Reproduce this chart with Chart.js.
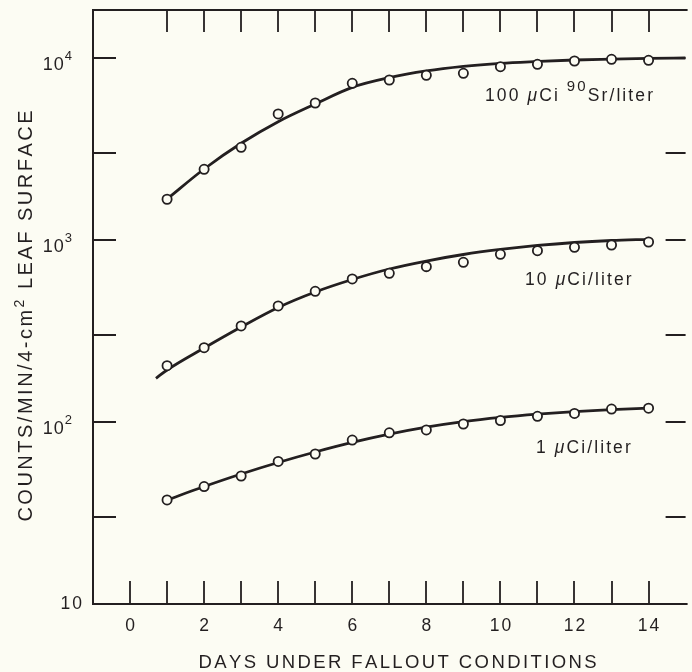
<!DOCTYPE html>
<html><head><meta charset="utf-8">
<script src="https://cdn.jsdelivr.net/npm/chart.js@4/dist/chart.umd.min.js"></script>
<style>html,body{margin:0;padding:0;background:#fcfcf3;}canvas{display:block;}</style>
</head><body>
<canvas id="c" width="692" height="672"></canvas>
<script>
// ---- data ----
const days = [1,2,3,4,5,6,7,8,9,10,11,12,13,14];
const obs100 = [1674,2446,3231,4924,5657,7261,7570,8035,8240,8957,9236,9627,9838,9714];
const obs10  = [203.8,256.0,337.0,433.9,522.5,610.6,656.2,713.5,754.4,834.4,873.3,911.8,938.7,975.0];
const obs1   = [37.3,44.2,50.5,60.7,66.7,79.6,87.2,90.4,97.5,101.9,107.5,111.4,117.8,119.1];
const fitDays100 = [1,2,3,4,5,6,7,8,9,10,11,12,13,14,15];
const fit100 = [1680,2455,3399,4467,5589,6900,7800,8500,9003,9352,9568,9750,9850,9938,10000];
const fitDays10 = [0.7,1,2,3,4,5,6,7,8,9,10,11,12,13,14];
const fit10 = [173.9,193.1,255.1,332.7,425.8,518.0,606.7,692.9,766.4,832.3,886.9,932.9,968.9,993.8,1008.8];
const fitDays1 = [1,2,3,4,5,6,7,8,9,10,11,12,13,14];
const fit1 = [37.3,44.2,51.8,59.9,68.4,77.2,85.7,93.6,100.4,105.9,110.4,114.1,117.0,119.1];
const xTicksBottom = [0,1,2,3,4,5,6,7,8,9,10,11,12,13,14];
const xTicksTop = [1,2,3,4,5,6,7,8,9,10,11,12,13,14];
const xTickLabels = [0,2,4,6,8,10,12,14];
const yTicks = [30,100,300,1000,3000,10000];
const yLabelValues = [10,100,1000,10000];
const yLabelExp = ['','2','3','4'];
const xTitle = 'DAYS UNDER FALLOUT CONDITIONS';
const yTitleParts = ['COUNTS/MIN/4-cm','2',' LEAF SURFACE'];
const seriesNames = [['100 ','μ','Ci ','90','Sr/liter'],['10 ','μ','Ci/liter'],['1 ','μ','Ci/liter']];

// ---- style ----
const ink = '#231f20', bg = '#fcfcf3';
const FF = '"Liberation Sans", Arial, Helvetica, sans-serif';

function segFont(s){ return (s.italic?'italic ':'') + s.size + 'px ' + FF; }
function richWidth(ctx, segs, sp){
  let w = 0;
  for (const s of segs){ ctx.font = segFont(s); for (const ch of s.t){ w += ctx.measureText(ch).width + sp; } }
  return w - sp;
}
function drawRich(ctx, segs, x, y, sp, align){
  const w = richWidth(ctx, segs, sp);
  let cx = align === 'center' ? x - w/2 : (align === 'right' ? x - w : x);
  ctx.textAlign = 'left'; ctx.textBaseline = 'alphabetic'; ctx.fillStyle = ink;
  for (const s of segs){
    ctx.font = segFont(s);
    for (const ch of s.t){ ctx.fillText(ch, cx, y - (s.dy||0)); cx += ctx.measureText(ch).width + sp; }
  }
}

const decor = {
  id: 'decor',
  beforeDraw(chart){
    const ctx = chart.ctx; ctx.save(); ctx.fillStyle = bg; ctx.fillRect(0,0,chart.width,chart.height); ctx.restore();
  },
  afterDatasetsDraw(chart){
    const ctx = chart.ctx, a = chart.chartArea, xs = chart.scales.x, ys = chart.scales.y;
    ctx.save();
    ctx.strokeStyle = ink; ctx.lineWidth = 2; ctx.lineCap = 'butt';
    ctx.beginPath();
    ctx.moveTo(a.left, a.top); ctx.lineTo(a.left, a.bottom);
    ctx.moveTo(a.left-1, a.top); ctx.lineTo(a.right+2, a.top);
    ctx.moveTo(a.left-1, a.bottom); ctx.lineTo(a.right+2, a.bottom);
    ctx.stroke();
    ctx.lineWidth = 1.8;
    ctx.beginPath();
    for (const v of xTicksBottom){ const px = Math.round(xs.getPixelForValue(v)); ctx.moveTo(px, a.bottom); ctx.lineTo(px, a.bottom-23); }
    for (const v of xTicksTop){ const px = Math.round(xs.getPixelForValue(v)); ctx.moveTo(px, a.top); ctx.lineTo(px, a.top+22); }
    for (const v of yTicks){ const py = Math.round(ys.getPixelForValue(v)); ctx.moveTo(a.left, py); ctx.lineTo(a.left+23, py); ctx.moveTo(a.right, py); ctx.lineTo(a.right-20, py); }
    ctx.stroke();
    ctx.restore();
  },
  afterDraw(chart){
    const ctx = chart.ctx, a = chart.chartArea, xs = chart.scales.x, ys = chart.scales.y;
    ctx.save();
    for (const v of xTickLabels){
      drawRich(ctx, [{t:String(v), size:17.5}], xs.getPixelForValue(v), a.bottom + 26.5, 2, 'center');
    }
    yLabelValues.forEach((v,i)=>{
      const py = ys.getPixelForValue(v);
      if (yLabelExp[i] === '') {
        drawRich(ctx, [{t:'10', size:17.5}], 82, py + 4.5, 2, 'right');
      } else {
        drawRich(ctx, [{t:'10', size:18}, {t:yLabelExp[i], size:13, dy:10}], 72, py + 12.5, 1, 'right');
      }
    });
    drawRich(ctx, [{t:xTitle, size:18.5}], 397.5, 667.5, 2.4, 'center');
    ctx.save();
    ctx.translate(32, 316); ctx.rotate(-Math.PI/2);
    drawRich(ctx, [{t:yTitleParts[0], size:20}, {t:yTitleParts[1], size:14, dy:8}, {t:yTitleParts[2], size:20}], 0, 0, 2.5, 'center');
    ctx.restore();
    const n0 = seriesNames[0];
    drawRich(ctx, [{t:n0[0],size:17.5},{t:n0[1],size:17.5,italic:true},{t:n0[2],size:17.5},{t:n0[3],size:15,dy:10},{t:n0[4],size:17.5}], 485, 100.5, 2.1, 'left');
    const n1 = seriesNames[1];
    drawRich(ctx, [{t:n1[0],size:17.5},{t:n1[1],size:17.5,italic:true},{t:n1[2],size:17.5}], 525, 284.5, 2.1, 'left');
    const n2 = seriesNames[2];
    drawRich(ctx, [{t:n2[0],size:17.5},{t:n2[1],size:17.5,italic:true},{t:n2[2],size:17.5}], 536, 453, 2.1, 'left');
    ctx.restore();
  }
};

function pts(xv, yv){ return xv.map((x,i)=>({x:x, y:yv[i]})); }
const markerStyle = { showLine:false, pointRadius:4.6, pointHoverRadius:4.6, pointBorderWidth:1.8, pointBackgroundColor:bg, pointBorderColor:ink, borderColor:ink, order:0 };
const curveStyle = { borderColor:ink, borderWidth:2.8, pointRadius:0, pointHoverRadius:0, fill:false, cubicInterpolationMode:'monotone', order:1 };

new Chart(document.getElementById('c'), {
  type: 'line',
  data: { datasets: [
    Object.assign({ label:'100 obs', data: pts(days, obs100) }, markerStyle),
    Object.assign({ label:'10 obs', data: pts(days, obs10) }, markerStyle),
    Object.assign({ label:'1 obs', data: pts(days, obs1) }, markerStyle),
    Object.assign({ label:'100 fit', data: pts(fitDays100, fit100) }, curveStyle),
    Object.assign({ label:'10 fit', data: pts(fitDays10, fit10) }, curveStyle),
    Object.assign({ label:'1 fit', data: pts(fitDays1, fit1) }, curveStyle)
  ]},
  options: {
    responsive:false, animation:false, events:[],
    layout:{ padding:{ left:93, top:10, right:0, bottom:68 } },
    plugins:{ legend:{display:false}, tooltip:{enabled:false} },
    scales:{
      x:{ type:'linear', min:-1, max:15, display:false },
      y:{ type:'logarithmic', min:10, max:18350, display:false }
    }
  },
  plugins:[decor]
});
</script>
</body></html>
